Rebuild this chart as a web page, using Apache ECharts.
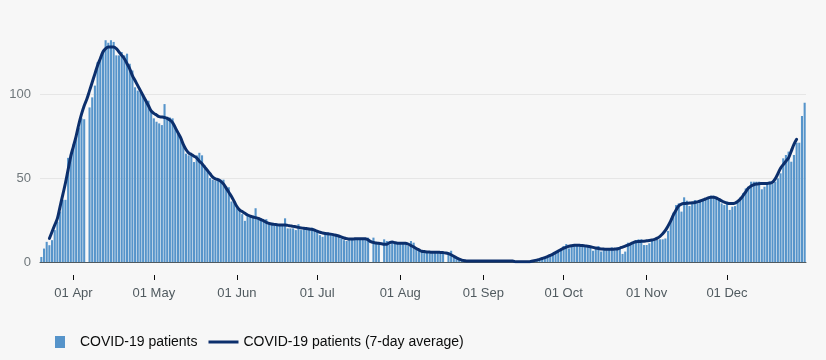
<!DOCTYPE html>
<html>
<head>
<meta charset="utf-8">
<script src="https://cdn.jsdelivr.net/npm/echarts@6/dist/echarts.min.js"></script>
<style>
html,body{margin:0;padding:0;background:#f7f7f7;}
#chart{width:826px;height:360px;}
</style>
</head>
<body>
<div id="chart"></div>
<script>
// Categories: daily dates from 20 Mar 2020 to 30 Dec 2020
const startDate = '2020-03-20';
const dayCount = 286;
const monthNames = ['Jan','Feb','Mar','Apr','May','Jun','Jul','Aug','Sep','Oct','Nov','Dec'];

// Daily COVID-19 patients (bars)
const patients = [
  3, 8, 12, 10, 13, 19, 24, 30, 37, 37,
  62, 64, 70, 75, 80, 85.5, 85, 0, 92, 98,
  105, 119, 121, 126, 132, 130.5, 132, 131, 123, 123,
  125, 123, 124, 118, 114, 104, 102, 101, 99, 97,
  96, 90, 85.5, 83.5, 82.5, 81.5, 94, 86.5, 86, 85.5,
  80.5, 76.5, 74.5, 69.5, 64.5, 63.5, 63.5, 59.5, 63.5, 65,
  63.5, 57.5, 55, 50, 49, 48.5, 49, 49, 49, 45,
  44.5, 36, 35, 32, 31, 28.5, 24.5, 27.5, 27, 27.5,
  32, 26.5, 26, 25, 25.5, 23, 22.5, 22, 22, 22,
  22, 26, 20, 20, 20, 19, 22.5, 19, 19.5, 19.5,
  20, 20.5, 19, 18.5, 16, 15, 17.5, 17.5, 17, 16.5,
  16.5, 15, 14, 13, 12.5, 13.5, 13.5, 13.5, 13.5, 14,
  13.5, 13.5, 14.5, 0, 14.5, 11, 11, 0, 13.5, 12.5,
  10.5, 12.5, 11.5, 11.5, 11, 11, 11.5, 9.5, 12.5, 11.5,
  8.5, 7, 6, 6.2, 6.2, 6.2, 6.2, 6.2, 5.8, 6.2,
  5.8, 0, 5.8, 6.7, 3.2, 2.2, 1.2, 0.8, 1, 1,
  1, 1, 1, 1, 1, 1, 1, 1, 1, 1,
  1, 1, 1, 1, 1, 1, 1, 0.3, 0.3, 0.3,
  0.3, 0.3, 0.3, 0.5, 0.8, 1.2, 1.5, 2, 2.4, 2.8,
  3.6, 4.2, 4.8, 6.2, 7.1, 9.5, 10.7, 8.1, 10.1, 10.1,
  10.1, 10.1, 9.1, 9.5, 9.1, 9.1, 6.7, 8.1, 9.5, 6.2,
  7.5, 7.1, 8.1, 8.7, 8.1, 8.7, 8.1, 4.8, 6.2, 11.5,
  11.1, 11.5, 13.1, 13.5, 13.5, 10.1, 10.1, 11.1, 12.7, 12.7,
  13.1, 13.5, 13.5, 14, 18.5, 24, 29.4, 33.9, 34.9, 30,
  38.5, 36.5, 33.3, 35.3, 36.9, 34.9, 35.9, 36.9, 37.3, 38.5,
  39.5, 39.5, 38.5, 36.9, 34.9, 33.9, 34.5, 31, 32.9, 33.3,
  35.3, 38.5, 40.9, 43.8, 44.8, 47.8, 47.8, 47.8, 47.8, 43.3,
  44.8, 47.2, 47.8, 46.4, 47.8, 49.8, 52.8, 61.7, 63.7, 65.7,
  59.7, 63.7, 71, 71, 86.9, 94.8
];

// 7-day average (line)
const average = [
  null, null, null, 14, 18, 22, 26, 33, 40, 47,
  55, 63, 69, 75, 82, 88, 93, 97, 102, 107,
  112, 117, 121, 125, 127, 128, 128, 128, 127, 125,
  123, 121, 118, 115, 111, 108, 105, 102, 99, 96,
  93, 90, 88.5, 87.5, 86.5, 86.3, 86, 85.5, 84.5, 83,
  80, 77, 74, 70, 67, 65, 64, 63, 62, 60,
  58.5, 56.5, 54.5, 52.5, 50.5, 49.5, 49, 48, 46.5, 44,
  41.5, 39, 36, 33, 31, 30, 29, 28, 27.3, 26.8,
  26.4, 26, 25.2, 24.5, 23.6, 23, 22.6, 22.4, 22.2, 22,
  22, 22, 21.8, 21.5, 21.2, 21, 20.6, 20.3, 20.1, 19.9,
  19.7, 19.4, 19, 18.3, 17.7, 17.3, 17, 16.8, 16.6, 16.3,
  15.9, 15.5, 14.9, 14.3, 13.9, 13.7, 13.7, 13.8, 13.9, 13.9,
  13.9, 13.8, 13.2, 12.1, 11.6, 11.3, 11.1, 10.9, 10.6, 10.6,
  11.5, 11.9, 11.5, 11.2, 11.1, 11.1, 11.1, 10.6, 9.8, 9,
  8, 7.2, 6.4, 6.2, 6, 5.9, 5.8, 5.8, 5.8, 5.7,
  5.6, 5.4, 5, 4.3, 3.4, 2.5, 1.7, 1.1, 0.8, 0.6,
  0.6, 0.6, 0.6, 0.6, 0.6, 0.6, 0.6, 0.6, 0.6, 0.6,
  0.6, 0.6, 0.6, 0.6, 0.6, 0.6, 0.6, 0.2, 0.2, 0.2,
  0.2, 0.2, 0.2, 0.4, 0.7, 1.1, 1.6, 2.1, 2.6, 3.2,
  3.9, 4.7, 5.6, 6.5, 7.4, 8.2, 8.9, 9.4, 9.7, 9.9,
  10, 9.9, 9.8, 9.6, 9.4, 9.1, 8.7, 8.3, 8, 7.8,
  7.7, 7.6, 7.6, 7.6, 7.7, 7.8, 8.3, 8.9, 9.5, 10.1,
  10.8, 11.5, 12, 12.2, 12.3, 12.4, 12.6, 12.8, 13.1, 13.5,
  14.2, 15.3, 16.8, 18.8, 21.5, 24.5, 28, 31, 33.5, 34.5,
  34.8, 34.9, 35.1, 35.2, 35.4, 35.8, 36.3, 36.9, 37.5, 38.2,
  38.6, 38.6, 38.1, 37.3, 36.4, 35.6, 35.1, 34.8, 34.8, 35.1,
  36, 37.5, 39.5, 41.8, 44, 45.3, 46, 46.4, 46.6, 46.7,
  46.8, 46.8, 47, 47.5, 49.5, 52.5, 55.8, 58, 60, 62,
  66, 70, 73, null, null, null
];

// Y axis ticks
const yTicks = [0, 50, 100];
const seriesNames = ['COVID-19 patients', 'COVID-19 patients (7-day average)'];

const dates = [];
{
  const t0 = Date.parse(startDate + 'T00:00:00Z');
  for (let i = 0; i < dayCount; i++) {
    const d = new Date(t0 + i * 86400000);
    dates.push(d.toISOString().slice(0, 10));
  }
}
const isFirst = (idx, val) => val.slice(8) === '01';
const fmtDate = (val) => val.slice(8) + ' ' + monthNames[parseInt(val.slice(5, 7), 10) - 1];

const FONT = 'Liberation Sans';
const LINE_COLOR = '#0c2f6c';
const chart = echarts.init(document.getElementById('chart'), null, {renderer: 'canvas'});
chart.setOption({
  animation: false,
  backgroundColor: '#f7f7f7',
  textStyle: {fontFamily: FONT},
  grid: {left: 40, right: 20, top: 10, bottom: 98, containLabel: false},
  legend: {
    left: 50, top: 330,
    itemWidth: 30, itemHeight: 12, itemGap: 11,
    textStyle: {fontSize: 14, color: '#0b0c0c', fontFamily: FONT},
    data: [
      {name: seriesNames[0], icon: 'path://M0,0h10v12h-10z'},
      {name: seriesNames[1], icon: 'path://M0,0h30v3h-30z'}
    ]
  },
  xAxis: [
    {
      type: 'category', data: dates, boundaryGap: true,
      axisLine: {show: true, lineStyle: {color: '#505a5f', width: 1}},
      axisTick: {show: false}, axisLabel: {show: false}, splitLine: {show: false}
    },
    {
      type: 'category', data: dates, boundaryGap: true, position: 'bottom', offset: 13,
      axisLine: {show: false},
      axisTick: {show: true, alignWithLabel: true, interval: isFirst, length: 5,
                 lineStyle: {color: '#0b0c0c', width: 1}},
      axisLabel: {show: true, interval: isFirst, formatter: fmtDate, margin: 12,
                  fontSize: 13, color: '#505a5f', fontFamily: FONT},
      splitLine: {show: false}
    }
  ],
  yAxis: {
    type: 'value', min: yTicks[0], max: 150, interval: 50,
    axisLine: {show: false}, axisTick: {show: false},
    axisLabel: {fontSize: 13, color: '#6f777b', margin: 9, showMaxLabel: false, fontFamily: FONT},
    splitLine: {show: true, showMaxLine: false, lineStyle: {color: '#e6e6e6', width: 1}}
  },
  series: [
    {
      name: seriesNames[0], type: 'bar', data: patients, xAxisIndex: 0,
      barCategoryGap: '22%',
      itemStyle: {color: '#5694ca'}
    },
    {
      name: seriesNames[1], type: 'line', data: average, xAxisIndex: 0,
      smooth: 0.4, showSymbol: false, symbol: 'none', connectNulls: false,
      color: LINE_COLOR,
      lineStyle: {color: LINE_COLOR, width: 3, cap: 'round', join: 'round'},
      itemStyle: {color: LINE_COLOR},
      z: 5
    }
  ]
});
</script>
</body>
</html>
